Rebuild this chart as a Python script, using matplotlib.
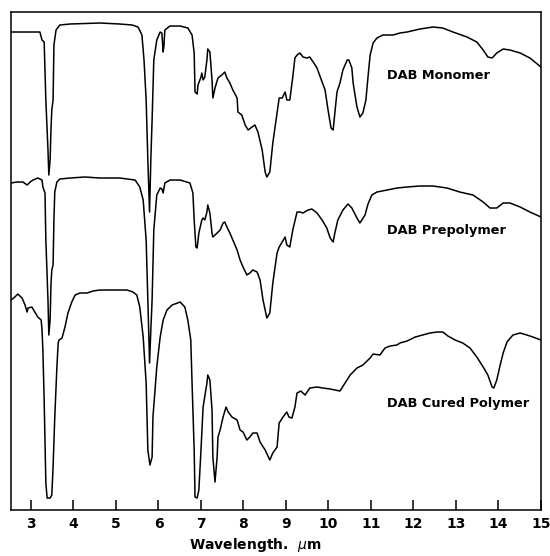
import matplotlib
matplotlib.use("Agg")
import matplotlib.pyplot as plt

# IR spectra of DAB
# wavelength in um, trace height in arbitrary chart units (0 = frame bottom)

monomer_wl = [2.53, 3.21, 3.26, 3.31, 3.35, 3.40, 3.42, 3.45, 3.47, 3.49, 3.52, 3.54, 3.59,
              3.68, 3.92, 4.62, 5.09, 5.38, 5.52, 5.61, 5.66, 5.71, 5.75, 5.79, 5.82, 5.85,
              5.89, 5.96, 6.04, 6.08, 6.11, 6.13, 6.15, 6.27, 6.51, 6.69, 6.79, 6.84, 6.86,
              6.91, 6.93, 7.00, 7.02, 7.05, 7.09, 7.14, 7.16, 7.21, 7.26, 7.28, 7.33, 7.40,
              7.49, 7.56, 7.61, 7.68, 7.75, 7.85, 7.87, 7.96, 8.04, 8.11, 8.20, 8.27, 8.34,
              8.44, 8.51, 8.55, 8.62, 8.69, 8.79, 8.84, 8.91, 8.98, 9.02, 9.09, 9.16, 9.21,
              9.26, 9.33, 9.40, 9.49, 9.56, 9.64, 9.73, 9.85, 9.92, 9.99, 10.06, 10.11, 10.15,
              10.20, 10.27, 10.34, 10.44, 10.48, 10.55, 10.58, 10.67, 10.74, 10.81, 10.88,
              10.93, 10.98, 11.05, 11.14, 11.28, 11.52, 11.68, 11.85, 12.15, 12.46, 12.69,
              12.93, 13.26, 13.49, 13.64, 13.75, 13.85, 13.96, 14.11, 14.27, 14.51, 14.74, 15.0]
monomer_t = [95.6, 95.6, 94.0, 93.6, 82.0, 72.0, 67.0, 70.0, 76.0, 80.0, 82.0, 93.0, 96.0,
             97.0, 97.2, 97.4, 97.2, 97.0, 96.6, 95.0, 90.0, 82.0, 70.0, 59.6, 70.0, 78.0,
             90.0, 94.0, 95.6, 95.4, 91.6, 93.0, 96.0, 96.8, 96.8, 96.4, 95.0, 91.4, 83.6,
             83.2, 85.0, 86.6, 87.4, 86.0, 86.6, 90.0, 92.2, 91.6, 86.0, 82.4, 84.4, 86.4,
             87.0, 87.6, 86.4, 85.4, 84.0, 82.4, 79.6, 79.0, 77.0, 76.0, 76.6, 77.0, 75.6,
             72.0, 67.6, 66.6, 67.6, 73.4, 79.4, 82.4, 82.4, 83.6, 82.0, 82.0, 86.6, 90.4,
             91.0, 91.4, 90.6, 90.4, 90.6, 89.6, 88.4, 85.6, 84.0, 80.0, 76.4, 76.0, 79.4,
             83.6, 85.4, 88.0, 90.0, 90.0, 88.4, 85.4, 80.6, 78.6, 79.4, 82.0,
             86.6, 91.0, 93.4, 94.4, 95.0, 95.0, 95.4, 95.6, 96.2, 96.6, 96.4,
             95.6, 94.6, 93.6, 92.0, 90.6, 90.4, 91.4, 92.2, 92.0, 91.4, 90.4, 88.6]

prepolymer_wl = [2.53, 2.67, 2.81, 2.91, 2.98, 3.05, 3.16, 3.26, 3.28, 3.33, 3.35, 3.40, 3.42,
                 3.45, 3.47, 3.49, 3.52, 3.54, 3.56, 3.61, 3.68, 3.92, 4.27, 4.62, 5.09, 5.45,
                 5.56, 5.64, 5.71, 5.75, 5.79, 5.82, 5.85, 5.89, 5.96, 6.04, 6.08, 6.11, 6.15,
                 6.27, 6.51, 6.74, 6.81, 6.84, 6.88, 6.91, 6.95, 7.02, 7.05, 7.09, 7.14, 7.16,
                 7.21, 7.26, 7.28, 7.38, 7.45, 7.52, 7.56, 7.61, 7.68, 7.75, 7.85, 7.92, 7.99,
                 8.08, 8.15, 8.22, 8.32, 8.39, 8.46, 8.55, 8.62, 8.69, 8.79, 8.84, 8.91, 8.98,
                 9.02, 9.09, 9.16, 9.26, 9.33, 9.40, 9.52, 9.61, 9.73, 9.85, 9.96, 10.04, 10.11,
                 10.15, 10.22, 10.34, 10.46, 10.55, 10.67, 10.74, 10.86, 10.93, 11.02, 11.14,
                 11.38, 11.61, 11.85, 12.15, 12.46, 12.79, 13.09, 13.40, 13.64, 13.80, 13.96,
                 14.11, 14.27, 14.51, 14.74, 15.0]
prepolymer_t = [65.4, 65.6, 65.6, 65.0, 65.6, 66.0, 66.4, 66.0, 64.6, 63.4, 54.0, 42.0, 35.0,
                38.0, 45.0, 48.0, 49.0, 58.0, 63.6, 65.6, 66.2, 66.4, 66.6, 66.4, 66.4, 66.0,
                64.6, 62.0, 54.0, 42.0, 29.4, 36.0, 42.0, 56.0, 63.0, 64.4, 64.2, 63.4, 65.4,
                66.0, 66.0, 65.4, 63.4, 58.0, 52.6, 52.4, 55.4, 58.0, 58.4, 58.0, 59.6, 61.0,
                59.4, 55.4, 54.6, 55.4, 56.0, 57.4, 57.6, 56.6, 55.4, 54.0, 52.0, 50.0, 48.6,
                47.0, 47.4, 48.0, 47.6, 46.0, 42.0, 38.4, 39.4, 45.4, 51.4, 52.6, 53.6, 54.6,
                53.0, 52.6, 56.0, 59.6, 59.6, 59.4, 60.0, 60.2, 59.4, 58.0, 56.4, 54.4, 53.6,
                55.4, 58.0, 60.0, 61.2, 60.4, 58.4, 57.4, 59.0, 61.2, 63.0, 63.6,
                64.0, 64.4, 64.6, 64.8, 64.8, 64.4, 63.6, 63.0, 61.6, 60.4, 60.4,
                61.4, 61.4, 60.6, 59.6, 58.6]

cured_wl = [2.53, 2.62, 2.69, 2.79, 2.86, 2.91, 2.93, 3.02, 3.09, 3.16, 3.24, 3.26, 3.28, 3.31,
            3.35, 3.38, 3.45, 3.49, 3.52, 3.56, 3.61, 3.64, 3.66, 3.73, 3.75, 3.80, 3.87, 3.96,
            4.04, 4.15, 4.32, 4.46, 4.62, 4.93, 5.26, 5.40, 5.49, 5.56, 5.64, 5.71, 5.75, 5.80,
            5.85, 5.87, 5.96, 6.04, 6.11, 6.20, 6.32, 6.51, 6.62, 6.69, 6.76, 6.79, 6.84, 6.86,
            6.91, 6.95, 7.00, 7.05, 7.14, 7.16, 7.21, 7.26, 7.28, 7.33, 7.38, 7.40, 7.45, 7.52,
            7.59, 7.64, 7.73, 7.85, 7.92, 7.99, 8.08, 8.15, 8.22, 8.32, 8.39, 8.51, 8.62, 8.69,
            8.79, 8.84, 8.93, 9.02, 9.07, 9.14, 9.21, 9.26, 9.35, 9.45, 9.56, 9.73, 9.87, 10.04,
            10.27, 10.39, 10.51, 10.67, 10.81, 10.98, 11.05, 11.21, 11.33, 11.45, 11.61, 11.68,
            11.85, 12.04, 12.22, 12.39, 12.55, 12.69, 12.81, 12.98, 13.16, 13.33, 13.49, 13.64,
            13.75, 13.85, 13.89, 13.96, 14.04, 14.11, 14.20, 14.34, 14.51, 14.67, 14.81, 15.0]
cured_t = [42.0, 42.6, 43.2, 42.4, 41.0, 39.6, 40.4, 40.6, 39.6, 38.6, 38.0, 36.0, 32.0, 22.0,
           5.4, 2.4, 2.4, 3.0, 8.6, 18.6, 28.6, 33.4, 34.0, 34.4, 35.0, 36.6, 39.4, 41.6,
           43.0, 43.4, 43.4, 43.8, 44.0, 44.0, 44.0, 43.6, 43.0, 40.6, 34.6, 25.4, 12.0, 9.0,
           10.6, 18.6, 28.6, 34.6, 38.0, 40.0, 41.0, 41.6, 40.6, 38.0, 34.0, 25.4, 12.0, 2.6,
           2.4, 4.0, 12.0, 20.6, 25.4, 27.0, 26.0, 20.0, 10.6, 5.6, 10.6, 14.6, 16.0, 18.6,
           20.6, 19.6, 18.6, 18.0, 16.0, 15.6, 14.0, 14.6, 15.4, 15.4, 13.6, 12.0, 10.0, 11.4,
           12.6, 17.4, 18.6, 19.6, 18.6, 18.4, 20.6, 23.4, 23.8, 23.0, 24.4, 24.6, 24.4, 24.2,
           23.8, 25.4, 27.0, 28.4, 29.0, 30.4, 31.2, 31.0, 32.4, 32.8, 33.0, 33.4,
           33.8, 34.6, 35.0, 35.4, 35.6, 35.6, 34.8, 34.0, 33.4, 32.4, 30.6, 28.6,
           27.0, 24.6, 24.4, 26.0, 29.0, 31.4, 33.6, 35.0, 35.4, 35.0, 34.6, 34.0]

labels = ["DAB Monomer", "DAB Prepolymer", "DAB Cured Polymer"]
label_y = [87.0, 56.0, 21.4]
ticks = list(range(3, 16))

fig = plt.figure(figsize=(5.5, 5.56), dpi=100)
ax = fig.add_axes([0.02, 0.0827, 0.9636, 0.8957])

for wl, t in [(monomer_wl, monomer_t), (prepolymer_wl, prepolymer_t), (cured_wl, cured_t)]:
    ax.plot(wl, t, color="black", lw=1.1)

for name, y in zip(labels, label_y):
    ax.text(11.38, y, name, fontsize=9.3, fontweight="bold", va="center", ha="left")

ax.set_xlim(2.53, 15.0)
ax.set_ylim(0, 99.6)
ax.set_xticks(ticks)
ax.set_xticklabels([str(t) for t in ticks], fontsize=10, fontweight="bold")
ax.set_yticks([])
ax.tick_params(axis="x", direction="in", length=7, width=1.1, pad=5)
for s in ax.spines.values():
    s.set_linewidth(1.1)

fig.text(255 / 550, 1 - 545 / 556, "Wavelength.  $\\mu$m", fontsize=10,
         fontweight="bold", ha="center", va="center")

fig.savefig("out.png", dpi=100)
